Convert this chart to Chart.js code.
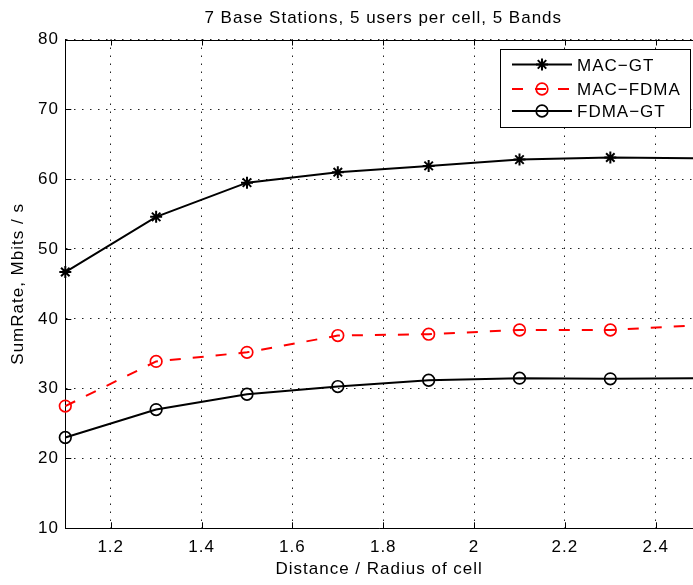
<!DOCTYPE html>
<html><head><meta charset="utf-8">
<script src="https://cdn.jsdelivr.net/npm/chart.js@4/dist/chart.umd.min.js"></script>
<style>html,body{margin:0;padding:0;background:#fff}#wrap{width:693px;height:585px;position:relative}</style>
</head><body><div id="wrap"><canvas id="c"></canvas></div>
<script>
const chartTitle = '7 Base Stations, 5 users per cell, 5 Bands';
const xTitle = 'Distance / Radius of cell';
const yTitle = 'SumRate, Mbits / s';
const seriesNames = ['MAC\u2212GT', 'MAC\u2212FDMA', 'FDMA\u2212GT'];
const distances = [1.1, 1.3, 1.5, 1.7, 1.9, 2.1, 2.3, 2.5];
const macGT   = [46.7, 54.6, 59.5, 61.0, 61.9, 62.8, 63.1, 63.0];
const macFDMA = [27.5, 33.9, 35.2, 37.6, 37.8, 38.4, 38.4, 39.1];
const fdmaGT  = [23.0, 27.0, 29.2, 30.3, 31.2, 31.5, 31.4, 31.5];
const xTickValues = [1.2, 1.4, 1.6, 1.8, 2.0, 2.2, 2.4];
const yTickValues = [10, 20, 30, 40, 50, 60, 70, 80];

const FONT = "'Liberation Sans', Arial, Helvetica, sans-serif";
Chart.defaults.font.family = FONT;
Chart.defaults.font.size = 17;
Chart.defaults.color = '#000';

const pts = arr => distances.map((d, i) => ({x: d, y: arr[i]}));
const clipBox = {left: 12, top: 12, right: 0, bottom: 12};

const datasets = [
  {label: seriesNames[0], data: pts(macGT), borderColor: '#000', borderWidth: 2,
   pointStyle: 'star', pointRadius: 6, pointBorderWidth: 2, pointBorderColor: '#000',
   pointBackgroundColor: 'rgba(0,0,0,0)', clip: clipBox},
  {label: seriesNames[1], data: pts(macFDMA), borderColor: '#ff0000', borderWidth: 2, borderDash: [11, 12],
   pointStyle: 'circle', pointRadius: 5.8, pointBorderWidth: 1.7, pointBorderColor: '#ff0000',
   pointBackgroundColor: 'rgba(0,0,0,0)', clip: clipBox},
  {label: seriesNames[2], data: pts(fdmaGT), borderColor: '#000', borderWidth: 2,
   pointStyle: 'circle', pointRadius: 5.8, pointBorderWidth: 1.7, pointBorderColor: '#000',
   pointBackgroundColor: 'rgba(0,0,0,0)', clip: clipBox}
];

const spacing = {
  id: 'spacing',
  beforeLayout(chart) { chart.ctx.letterSpacing = '1px'; },
  beforeDraw(chart) { chart.ctx.letterSpacing = '1px'; }
};

const decor = {
  id: 'decor',
  afterDraw(chart) {
    const {ctx, chartArea: a, scales: {x, y}} = chart;
    ctx.save();
    ctx.letterSpacing = '1px';
    ctx.strokeStyle = '#000';
    ctx.lineWidth = 1;
    ctx.setLineDash([]);
    ctx.beginPath();
    ctx.moveTo(a.left, Math.round(a.top) + 0.5);
    ctx.lineTo(a.right, Math.round(a.top) + 0.5);
    const tl = 6;
    xTickValues.forEach(v => {
      const px = Math.round(x.getPixelForValue(v)) + 0.5;
      ctx.moveTo(px, a.bottom); ctx.lineTo(px, a.bottom - tl);
      ctx.moveTo(px, a.top); ctx.lineTo(px, a.top + tl);
    });
    yTickValues.forEach(v => {
      const py = Math.round(y.getPixelForValue(v)) + 0.5;
      ctx.moveTo(a.left, py); ctx.lineTo(a.left + tl, py);
    });
    ctx.stroke();

    // title
    ctx.font = '17px ' + FONT;
    ctx.fillStyle = '#000';
    ctx.textAlign = 'center';
    ctx.textBaseline = 'alphabetic';
    ctx.fillText(chartTitle, x.getPixelForValue(1.8), 22.7);

    // legend
    const bx = 500.5, by = 49.5, bw = 190, bh = 78;
    ctx.fillStyle = '#fff';
    ctx.fillRect(bx, by, bw, bh);
    ctx.strokeStyle = '#000';
    ctx.lineWidth = 1;
    ctx.strokeRect(bx, by, bw, bh);
    const baselines = [70.7, 95.3, 117.3];
    chart.data.datasets.forEach((ds, i) => {
      const ly = baselines[i] - 6.3;
      ctx.save();
      ctx.strokeStyle = ds.borderColor;
      ctx.lineWidth = ds.borderWidth;
      ctx.setLineDash(ds.borderDash || []);
      ctx.beginPath(); ctx.moveTo(512, ly); ctx.lineTo(572, ly); ctx.stroke();
      ctx.setLineDash([]);
      ctx.fillStyle = 'rgba(0,0,0,0)';
      ctx.strokeStyle = ds.pointBorderColor;
      ctx.lineWidth = ds.pointBorderWidth;
      Chart.helpers.drawPoint(ctx, {pointStyle: ds.pointStyle, radius: ds.pointRadius, rotation: 0, borderWidth: ds.pointBorderWidth}, 542, ly);
      ctx.restore();
      ctx.fillStyle = '#000';
      ctx.textAlign = 'left';
      ctx.fillText(ds.label, 577, baselines[i]);
    });
    ctx.restore();
  }
};

new Chart(document.getElementById('c'), {
  type: 'line',
  data: {datasets},
  plugins: [spacing, decor],
  options: {
    responsive: true,
    maintainAspectRatio: false,
    animation: false,
    layout: {autoPadding: false, padding: {top: 39.5, right: 0, bottom: 0, left: 0}},
    elements: {line: {tension: 0}},
    plugins: {legend: {display: false}, tooltip: {enabled: false}, title: {display: false}},
    scales: {
      x: {
        type: 'linear', min: 1.1, max: 2.482,
        afterBuildTicks: s => { s.ticks = xTickValues.map(v => ({value: v})); },
        afterFit: s => { s.height = 56.7; },
        ticks: {autoSkip: false, maxRotation: 0, padding: 9, color: '#000',
                callback: v => String(Math.round(v * 10) / 10)},
        grid: {color: '#222', lineWidth: 1, drawTicks: false},
        border: {display: true, color: '#000', width: 1, dash: [1.5, 6.5]},
        title: {display: true, text: xTitle, color: '#000', padding: {top: 0, bottom: 5.8}}
      },
      y: {
        type: 'linear', min: 10, max: 80,
        afterBuildTicks: s => { s.ticks = yTickValues.map(v => ({value: v})); },
        afterFit: s => { s.width = 65.3; },
        ticks: {autoSkip: false, padding: 6.3, color: '#000'},
        grid: {color: '#222', lineWidth: 1, drawTicks: false},
        border: {display: true, color: '#000', width: 1, dash: [1.5, 6.5]},
        title: {display: true, text: yTitle, color: '#000', padding: {top: 7.8, bottom: 0}}
      }
    }
  }
});
</script>
</body></html>
